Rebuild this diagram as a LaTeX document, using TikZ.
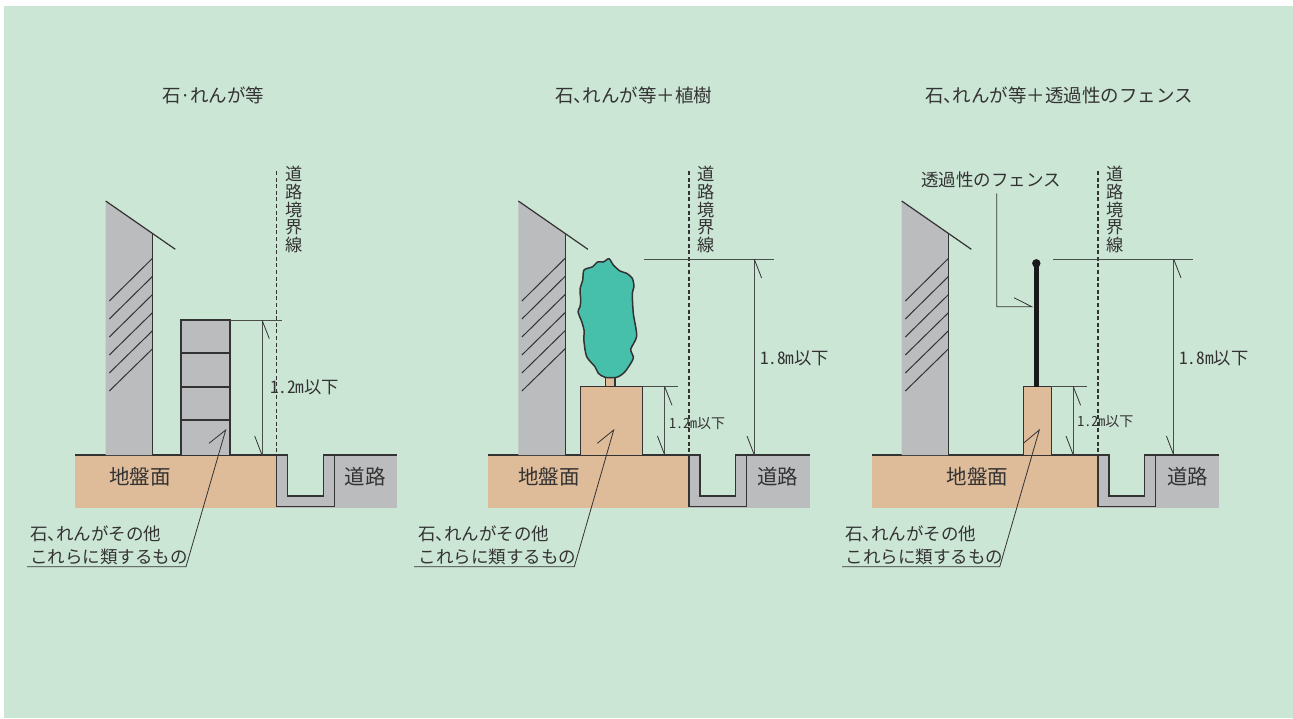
\documentclass[tikz,border=0pt]{standalone}
\usepackage{fontspec}
\setmainfont{Noto Sans CJK JP}
\newfontfamily\hwfont[RawFeature=+hwid]{Noto Sans CJK JP}
\definecolor{bgc}{HTML}{CCE6D5}
\definecolor{soil}{HTML}{DEBB99}
\definecolor{grayf}{HTML}{BBBCBE}
\definecolor{treec}{HTML}{46BFAB}
\definecolor{ink}{HTML}{333333}
\newcommand{\hc}{\makebox[0.5em][l]{、}}
\newcommand{\hd}{\makebox[0.5em][c]{·}}
\tikzset{
  main/.style={draw=ink,line width=1.2pt},
  thin line/.style={draw=ink,line width=0.8pt},
  dimline/.style={draw=ink!85!bgc,line width=0.8pt},
  txt/.style={inner sep=0pt,outer sep=0pt,text=ink,font=\fontsize{17.5}{20}\selectfont},
  big/.style={txt,font=\fontsize{20.5}{24}\selectfont},
  titletxt/.style={txt,font=\fontsize{18.5}{22}\selectfont},
  vert/.style={txt,align=center,font=\fontsize{17.2}{17.7}\selectfont},
  dimbig/.style={txt,anchor=west,font=\hwfont\fontsize{17.3}{20}\selectfont},
  dimsmall/.style={txt,anchor=west,font=\hwfont\fontsize{14}{18}\selectfont},
}
% #1 id, #2 ground left, #3 boundary x, #4 building left, #5 road text x
\newcommand{\groundpart}[5]{%
  \path[fill=soil] (#2,455) rectangle (#3,507.5);
  \path[fill=grayf] (#3,455) rectangle ({#3+120.5},507.5);
  \path[fill=bgc] ({#3+11},454) rectangle ({#3+46.6},496);
  \draw[main,line join=miter] (#2,455) -- ({#3+11},455) -- ({#3+11},496) -- ({#3+46.6},496) -- ({#3+46.6},455) -- ({#3+120.5},455);
  \draw[main,line join=miter] (#3,455) -- (#3,506.7) -- ({#3+57.6},506.7) -- ({#3+57.6},455);
  \draw[ink,line width=1.1pt,dash pattern=on 4pt off 2.6pt] (#3,171) -- (#3,455);
  \path[fill=grayf] (#4,201) -- ({#4+46.8},233) -- ({#4+46.8},455) -- (#4,455) -- cycle;
  \draw[main] ({#4+46.8},233) -- ({#4+46.8},455);
  \draw[main] (#4,201) -- ({#4+69.6},249.3);
  \foreach \i in {0,...,5} {
    \draw[draw=ink,line width=1pt] ({#4+3.6},{301+18*\i}) -- ({#4+46.8},{258.3+18.1*\i});
  }
  \node[big,anchor=center] (road#1) at (#5,476.7) {道路};
  \node[vert] (boundary#1) at ({#3+17.5},209.5) {道\\路\\境\\界\\線};
}
% dim: #1 x of vertical line, #2 top y, #3 line start, #4 line end
\newcommand{\dimpart}[4]{%
  \draw[dimline] (#3,#2) -- (#4,#2);
  \draw[dimline] (#1,#2) -- (#1,455);
  \draw[thin line] (#1,#2) -- ({#1+7.3},{#2+18.6});
  \draw[thin line] (#1,455) -- ({#1-7.3},436);
}
% leader: #1 head x, #2 tick x, #3 elbow x, #4 end x
\newcommand{\leader}[4]{%
  \draw[thin line] (#2,443.3) -- (#1,430) -- (#3,566.7) -- (#4,566.7);
}
\begin{document}
\begin{tikzpicture}[x=1pt,y=-1pt]
\useasboundingbox (0,0) rectangle (1293,718);
\path[fill=white] (0,0) rectangle (1293,718);
\path[fill=bgc] (4,6) rectangle (1293,718);

% titles
\node[titletxt,anchor=west] (title1) at (162.7,95.7) {石\hd れんが等};
\node[titletxt,anchor=west] (title2) at (555,95.7) {石\hc れんが等＋植樹};
\node[titletxt,anchor=west] (title3) at (925,95.7) {石\hc れんが等＋透過性のフェンス};

% panel 1
\groundpart{1}{75}{276.7}{105.7}{365}
\node[big] (soil1) at (140,476.7) {地盤面};
\path[fill=grayf] (181,320) rectangle (230,455);
\draw[main] (181,455) -- (181,320) -- (230,320) -- (230,455);
\foreach \yy in {353,387,420} \draw[main] (181,\yy) -- (230,\yy);
\dimpart{262}{320}{230}{281.7}
\node[dimbig] (dim1a) at (270,387) {1.2m以下};
\leader{225.7}{209}{186}{27}
\node[txt,anchor=west] (stone1a) at (30,534) {石\hc れんがその他};
\node[txt,anchor=west] (stone1b) at (30.5,556.7) {これらに類するもの};

% panel 2
\groundpart{2}{488.3}{689}{518.3}{777.7}
\node[big] (soil2) at (549,476.7) {地盤面};
\draw[main,fill=soil] (605.7,387) rectangle (615,377);
\draw[draw=ink,line width=1.5pt,fill=treec,line join=round] plot[smooth cycle,tension=0.45] coordinates {
 (609,258.7)(603.3,262)(597.3,262)(592.7,266.7)(584,270)(582.7,280)(580,289.3)(580.7,300)(580,306.7)(578,311.7)
 (581.7,321.7)(584,330)(584,341.7)(586.7,356.7)(595,366.7)(598.3,373.3)(605,377.3)(616.7,377.3)(625,371.7)
 (633.3,358.3)(630.7,349.3)(636.7,336)(633.3,313.3)(632.3,293.3)(634,286.7)(632.3,278.3)(626.7,273.3)(620,271)(613.3,265)};
\path[fill=soil] (580.7,386.7) rectangle (642.7,455);
\draw[main] (580.7,455) -- (580.7,386.7) -- (642.7,386.7) -- (642.7,455);
\dimpart{664.7}{386.7}{642.7}{678.3}
\dimpart{754.3}{259.3}{644.3}{774}
\node[dimsmall] (dim2a) at (669,423.3) {1.2m以下};
\node[dimbig] (dim2b) at (760,358.3) {1.8m以下};
\leader{613.7}{597.3}{574.3}{414}
\node[txt,anchor=west] (stone2a) at (418,534) {石\hc れんがその他};
\node[txt,anchor=west] (stone2b) at (418.5,556.7) {これらに類するもの};

% panel 3
\groundpart{3}{872}{1098}{901.7}{1187.7}
\node[big] (soil3) at (977.7,476.7) {地盤面};
\path[fill=soil] (1023.3,386.7) rectangle (1051.3,455);
\draw[main] (1023.3,455) -- (1023.3,386.7) -- (1051.3,386.7) -- (1051.3,455);
\draw[draw=black!90,line width=5pt] (1036.3,263.3) -- (1036.3,386.7);
\path[fill=black!90] (1036.3,263.3) circle (4.2);
\dimpart{1073.3}{386.7}{1051.3}{1087.3}
\dimpart{1173.7}{259.3}{1053.3}{1193.3}
\node[dimsmall] (dim3a) at (1077.3,421.7) {1.2m以下};
\node[dimbig] (dim3b) at (1179.3,358.3) {1.8m以下};
\leader{1039.3}{1023.3}{999.7}{842}
\node[txt,anchor=west] (stone3a) at (845,534) {石\hc れんがその他};
\node[txt,anchor=west] (stone3b) at (845.5,556.7) {これらに類するもの};
\node[txt,anchor=west] (fence) at (921,180) {透過性のフェンス};
\coordinate (fenceT) at (996.7,193.3);
\coordinate (fenceH) at (1031.7,306.7);
\draw[thin line] (fenceT) -- (996.7,306.7) -- (fenceH) -- (1014,297.7);
\end{tikzpicture}
\end{document}
